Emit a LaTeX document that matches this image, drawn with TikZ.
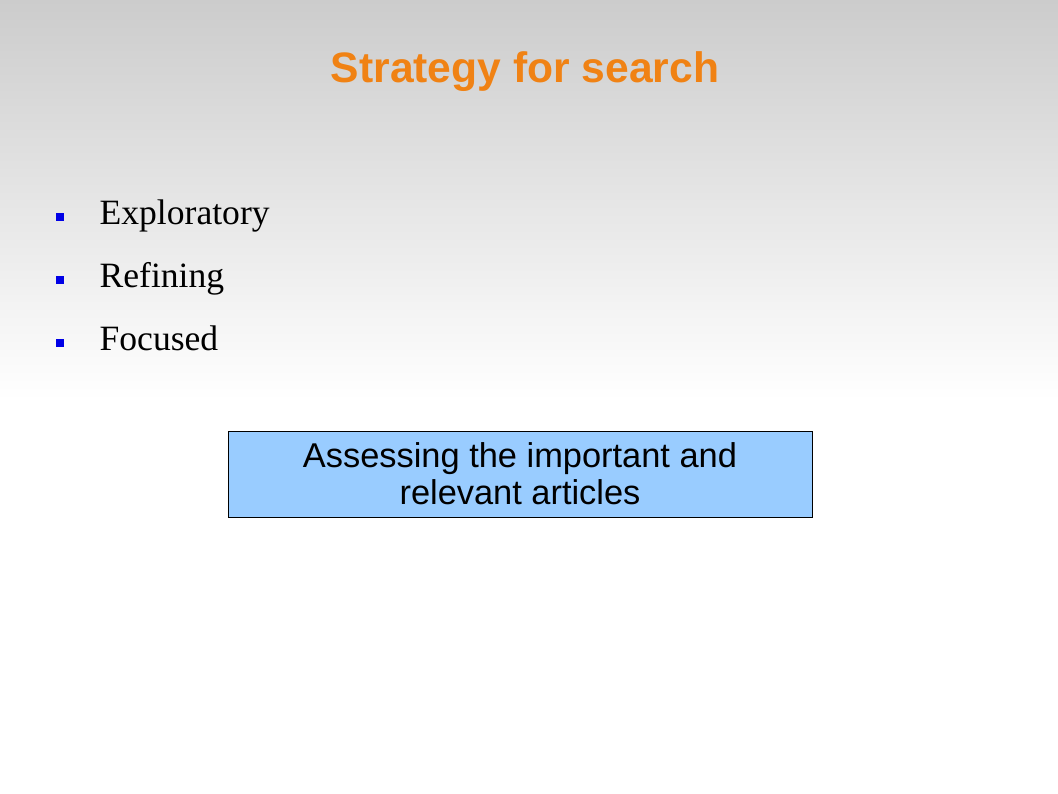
\documentclass[tikz,border=0pt]{standalone}
\usepackage{fontspec}
\setmainfont{Liberation Serif}
\setsansfont{Liberation Sans}
\usetikzlibrary{positioning}

\definecolor{titleorange}{RGB}{240,130,20}
\definecolor{boxblue}{RGB}{153,204,255}
\definecolor{bulletblue}{RGB}{0,0,230}

\begin{document}
\begin{tikzpicture}[
    x = 0.5pt, y = -0.5pt, % one unit is one pixel, from top left
    node distance = 0pt,
    semithick % line style
    ]

    \tikzset{
    title/.style = {text = titleorange, font = \sffamily\bfseries\fontsize{21.3}{24}\selectfont, anchor = base},
    item/.style = {font = \fontsize{17.8}{20}\selectfont, anchor = base west, inner sep = 0pt},
    bullet/.style = {fill = bulletblue, minimum size = 4pt, inner sep = 0pt},
    box/.style = {draw = black, thin, fill = boxblue, minimum width = 292pt, minimum height = 43pt,
                  align = center, font = \sffamily\fontsize{17.2}{18.5}\selectfont}
    }

    % background
    \useasboundingbox (0,0) rectangle (1058,793);
    \fill[white] (0,0) rectangle (1058,793);
    \shade[top color = black!20, bottom color = white] (0,0) rectangle (1058,400);

    \node[title] (title) at (525,82) {Strategy for search};

    \node[item] (exploratory) at (99,224) {Exploratory};
    \node[item] (refining) at (99,287) {Refining};
    \node[item] (focused) at (99,350) {Focused};

    \node[bullet] (b1) at (60,217) {};
    \node[bullet] (b2) at (60,280) {};
    \node[bullet] (b3) at (60,343) {};

    \node[box] (assess) at (520,474) {Assessing the important and\\relevant articles};
\end{tikzpicture}
\end{document}
